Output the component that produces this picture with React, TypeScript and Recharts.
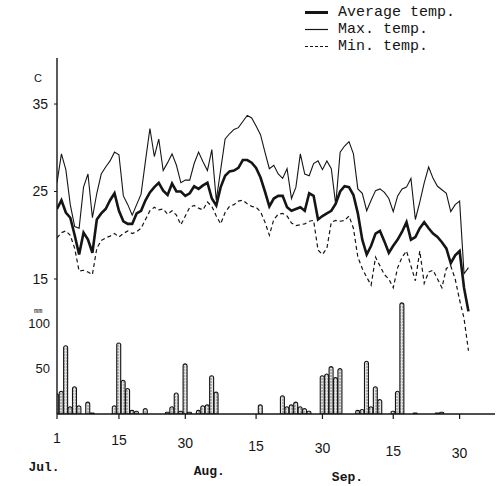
import React from 'react';
import { ComposedChart, Line, Bar, XAxis, YAxis, Legend } from 'recharts';

// daily values, 1 Jul .. 2 Oct (day 0 = Jul 1)
const maxTemp = [
  26, 29.3, 27.5, 23.5, 21, 20.8, 25.5, 27, 22, 24.8,
  27, 27.8, 28.5, 29.5, 29.2, 24.5, 23.5, 22.3, 23.5, 24.7,
  28.5, 32.2, 29, 31, 27.4, 28.3, 29.3, 28, 26, 26.3,
  26.3, 28.2, 29.5, 28.4, 27.4, 29.8, 24, 27.5, 31, 31.6,
  32.1, 32.3, 33, 33.7, 33.4, 32.5, 31.5, 29.5, 27.6, 28,
  27, 26.5, 27.6, 24.2, 25.5, 29.3, 27, 26.8, 28.2, 28.5,
  27.5, 28.5, 27.6, 23.5, 29.5, 30.2, 30.7, 29.3, 25.3, 24.8,
  22.8, 24, 25.1, 25.3, 24.9, 24.2, 22.7, 24.5, 25.3, 25.5,
  26.5, 21.8, 23.8, 26, 27.8, 26.5, 25.6, 25.2, 24.8, 22.7,
  23.5, 23.9, 15.6, 16.3,
];

const avgTemp = [
  23, 24, 22.6, 22, 20, 17.8, 20.3, 19.5, 18, 21.8,
  22.5, 23, 24, 24.8, 22.8, 21.6, 21.3, 21.3, 22.5, 22.8,
  24, 24.9, 25.5, 26, 25.1, 24.6, 25.9, 25, 25, 24.5,
  24.8, 25.6, 25.3, 25.7, 26, 24.2, 23.4, 25.5, 26.8, 27.3,
  27.4, 27.7, 28.6, 28.6, 28.3, 27.7, 26.6, 25, 23.3, 24.2,
  24.5, 24.5, 23.2, 22.8, 23, 23.2, 22.8, 24.8, 24.5, 21.8,
  22.2, 22.5, 22.8, 23.6, 25, 25.6, 25.5, 24.6, 22.5, 19.5,
  17.8, 18.8, 20.2, 20.5, 19.3, 18, 18.8, 19.5, 20.4, 21.5,
  19.5, 19.8, 20.8, 21.5, 20.8, 20.2, 19.8, 19.2, 18.5, 16.8,
  17.7, 18.2, 14, 11.3,
];

const minTemp = [
  19.7, 20.3, 20.5, 20, 18.5, 15.9, 16, 15.8, 15.5, 18.5,
  19.4, 19.7, 19.9, 20.2, 19.8, 20.2, 20.5, 20.2, 20.4, 20.8,
  21.8, 22.8, 23.2, 22.9, 23, 22.4, 22.8, 22.3, 21.2, 22.2,
  23.2, 23.4, 23.1, 22.9, 23.8, 23.3, 22.2, 21.3, 22.6, 23.3,
  23.5, 23.9, 24, 23.6, 23.3, 23.2, 22.7, 21.5, 20, 21.8,
  22.4, 22.5, 22.2, 21.4, 21.1, 21.2, 21.3, 21.6, 21.7, 18.3,
  17.8, 18.5, 21.5, 21.7, 21.6, 21.7, 22.2, 20.8, 17.5, 16.2,
  15.2, 14.3, 17.5, 16.5, 15.5, 15, 14, 16.3, 17.5, 18.2,
  16.5, 14.8, 18.2, 14.5, 15.8, 16, 15, 14, 16.2, 16.5,
  15, 12.6, 10.5, 6.8,
];

const rain = [
  22, 25, 75, 8, 30, 9, 0, 13, 1, 0,
  0, 0, 0, 9, 78, 37, 28, 4, 3, 0,
  6, 0, 0, 0, 0, 2, 8, 23, 3, 55,
  2, 0, 4, 9, 10, 42, 24, 0, 0, 0,
  0, 0, 0, 0, 0, 0, 10, 0, 0, 0,
  0, 20, 8, 10, 13, 8, 6, 3, 0, 0,
  42, 44, 52, 40, 50, 0, 0, 0, 4, 5,
  58, 8, 30, 16, 0, 0, 3, 25, 122, 0,
  0, 1, 0, 0, 0, 0, 1, 2, 0, 0,
  0, 0, 0, 0,
];

const dayTicks = [0, 14, 29, 45, 60, 76, 91];
const dayLabels = ['1', '15', '30', '15', '30', '15', '30'];
const monthTicks = [0, 29, 60];
const monthNames = ['Jul.', 'Aug.', 'Sep.'];
const tempTicks = [15, 25, 35];
const rainTicks = [50, 100];

const data = maxTemp.map((_, i) => ({
  day: i,
  max: maxTemp[i],
  avg: avgTemp[i],
  min: minTemp[i],
  rain: rain[i] > 0 ? rain[i] : null,
}));

const INK = '#151515';
const MONO = '"Liberation Mono", "DejaVu Sans Mono", monospace';
const SANS = '"Liberation Sans", Arial, sans-serif';

// month label offsets from their tick (px)
const monthShift = [-13, 24, 25];

const DayTick = ({ x, y, payload }: any) => {
  const v = payload.value;
  const i = dayTicks.indexOf(v);
  const m = monthTicks.indexOf(v);
  return (
    <g>
      <text x={x} y={y + 19 + v * 0.17} dy="0.35em" textAnchor="middle"
        fontFamily={SANS} fontSize={14} fill={INK}>
        {dayLabels[i]}
      </text>
      {m >= 0 && (
        <text x={x + monthShift[m]} y={y + 47 + v * 0.17} dy="0.35em" textAnchor="middle"
          fontFamily={MONO} fontSize={13} fontWeight="bold" fill={INK}>
          {monthNames[m]}
        </text>
      )}
    </g>
  );
};

const TempTick = ({ x, y, payload }: any) => (
  <g>
    <text x={x} y={y} dy="0.35em" textAnchor="end" fontFamily={SANS} fontSize={14} fill={INK}>
      {payload.value}
    </text>
    {payload.value === 35 && (
      <text x={x - 10} y={y - 26} dy="0.35em" textAnchor="middle" fontFamily={SANS} fontSize={11} fill={INK}>
        C
      </text>
    )}
  </g>
);

const RainTick = ({ x, y, payload }: any) => (
  <g>
    <text x={x - 7} y={y} dy="0.35em" textAnchor="end" fontFamily={SANS} fontSize={13} fill={INK}>
      {payload.value}
    </text>
    {payload.value === 100 && (
      <text x={x - 23} y={y - 12} dy="0.35em" textAnchor="start" fontFamily={MONO} fontSize={7} fill={INK}>
        mm
      </text>
    )}
  </g>
);

const legendLine: Record<string, { w: number; dash?: string }> = {
  avg: { w: 3 },
  max: { w: 1.2 },
  min: { w: 1.2, dash: '3 2' },
};

const LegendContent = ({ payload }: any) => (
  <div style={{ fontFamily: MONO, fontSize: 15, lineHeight: '17px', color: INK }}>
    {(payload || [])
      .filter((p: any) => p.dataKey !== 'rain')
      .map((p: any) => {
        const s = legendLine[p.dataKey] || { w: 1 };
        return (
          <div key={p.dataKey} style={{ display: 'flex', alignItems: 'center', whiteSpace: 'nowrap' }}>
            <svg width={33} height={17}>
              <line x1={0} x2={23} y1={8.5} y2={8.5} stroke={INK} strokeWidth={s.w} strokeDasharray={s.dash} />
            </svg>
            <span>{p.value}</span>
          </div>
        );
      })}
  </div>
);

export default function App() {
  return (
    <div style={{ position: 'absolute', left: 0, top: 0, width: 499, height: 486, background: '#fff' }}>
      <ComposedChart width={499} height={486} data={data}
        margin={{ top: 58, right: 4, bottom: 12, left: 0 }}>
        <defs>
          <pattern id="stipple" width="3" height="3" patternUnits="userSpaceOnUse">
            <rect width="3" height="3" fill="#e2e2e2" />
            <circle cx="1" cy="1" r="0.65" fill="#555" />
          </pattern>
        </defs>
        <XAxis dataKey="day" type="number" domain={[0, 99]} allowDataOverflow
          ticks={dayTicks} tick={<DayTick />} interval={0}
          height={60} tickSize={5} tickMargin={0}
          axisLine={{ stroke: INK, strokeWidth: 1.4 }} tickLine={{ stroke: INK, strokeWidth: 1.2 }} />
        <YAxis yAxisId="temp" type="number" domain={[-0.43, 40.26]} allowDataOverflow
          ticks={tempTicks} tick={<TempTick />} width={57} tickSize={3} tickMargin={6}
          axisLine={{ stroke: INK, strokeWidth: 1.4 }} tickLine={{ stroke: INK }} />
        <YAxis yAxisId="rain" type="number" domain={[0, 391]} allowDataOverflow
          ticks={rainTicks} tick={<RainTick />} mirror tickSize={0} tickMargin={0}
          axisLine={false} tickLine={false} />
        <Legend layout="vertical" align="center" verticalAlign="middle"
          wrapperStyle={{ top: 4, left: 305, width: 'auto' }} content={<LegendContent />} />
        <Bar yAxisId="rain" dataKey="rain" name="Rain" barSize={5}
          fill="url(#stipple)" stroke={INK} strokeWidth={1.1} radius={[2.5, 2.5, 0, 0]}
          isAnimationActive={false} legendType="none" />
        <Line yAxisId="temp" dataKey="avg" name="Average temp." type="linear" stroke={INK}
          strokeWidth={2.6} dot={false} activeDot={false} isAnimationActive={false} />
        <Line yAxisId="temp" dataKey="max" name="Max. temp." type="linear" stroke={INK}
          strokeWidth={1.1} dot={false} activeDot={false} isAnimationActive={false} />
        <Line yAxisId="temp" dataKey="min" name="Min. temp." type="linear" stroke={INK}
          strokeWidth={1.2} strokeDasharray="4 3" dot={false} activeDot={false} isAnimationActive={false} />
      </ComposedChart>
    </div>
  );
}
